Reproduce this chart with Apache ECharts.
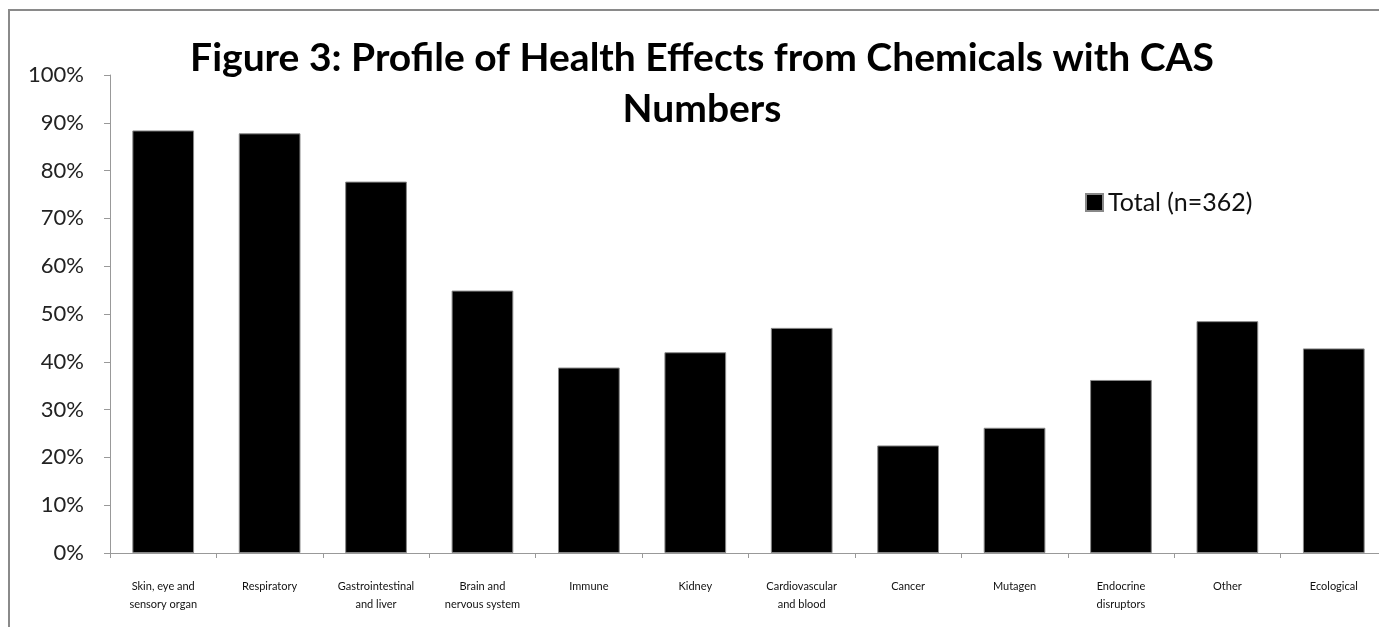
<!DOCTYPE html>
<html>
<head>
<meta charset="utf-8">
<script src="https://cdn.jsdelivr.net/npm/echarts@6/dist/echarts.min.js"></script>
<style>html,body{margin:0;padding:0;background:#fff;overflow:hidden;width:1379px;height:627px;}#c{width:1392px;height:627px;}</style>
</head>
<body>
<div id="c"></div>
<script>
const titleText = "Figure 3: Profile of Health Effects from Chemicals with CAS\nNumbers";
const categories = ["Skin, eye and\nsensory organ","Respiratory","Gastrointestinal\nand liver","Brain and\nnervous system","Immune","Kidney","Cardiovascular\nand blood","Cancer","Mutagen","Endocrine\ndisruptors","Other","Ecological"];
const seriesName = "Total (n=362)";
const values = [0.884, 0.878, 0.777, 0.549, 0.388, 0.420, 0.471, 0.225, 0.262, 0.362, 0.485, 0.428];
const yTicks = [0,0.1,0.2,0.3,0.4,0.5,0.6,0.7,0.8,0.9,1.0];

const chart = echarts.init(document.getElementById('c'), null, {renderer:'canvas'});
chart.setOption({
  backgroundColor:'#fff',
  animation:false,
  title:{
    text:titleText, left:697, top:28, textAlign:'center',
    textStyle:{fontFamily:'Lato', fontWeight:'bold', fontSize:39, lineHeight:51, color:'#000'}
  },
  legend:{
    data:[seriesName], left:1080, top:185, itemWidth:17, itemHeight:17, itemGap:5,
    icon:'rect',
    textStyle:{fontFamily:'Lato', fontSize:25, color:'#111'}
  },
  graphic:[{type:'rect', shape:{x:9, y:10, width:1500, height:800}, style:{fill:'none', stroke:'#8a8a8a', lineWidth:2}, silent:true}],
  grid:{left:110, right:5, top:75, bottom:74, containLabel:false},
  xAxis:{
    type:'category', data:categories, boundaryGap:true,
    axisLine:{lineStyle:{color:'#999', width:1}},
    axisTick:{show:true, alignWithLabel:false, length:5, lineStyle:{color:'#999'}},
    axisLabel:{interval:0, fontFamily:'Lato', fontSize:11, lineHeight:18, color:'#111', margin:24}
  },
  yAxis:{
    type:'value', min:0, max:1, interval:0.1,
    axisLine:{show:true, lineStyle:{color:'#999', width:1}},
    axisTick:{show:true, length:6, lineStyle:{color:'#999'}},
    splitLine:{show:false},
    axisLabel:{fontFamily:'Lato', fontSize:22, color:'#222', margin:26,
      formatter:v=>Math.round(v*100)+'%'}
  },
  series:[{
    name:seriesName, type:'bar', data:values, barWidth:'58%',
    itemStyle:{color:'#000', borderColor:'#888', borderWidth:1}
  }]
});
</script>
</body>
</html>
